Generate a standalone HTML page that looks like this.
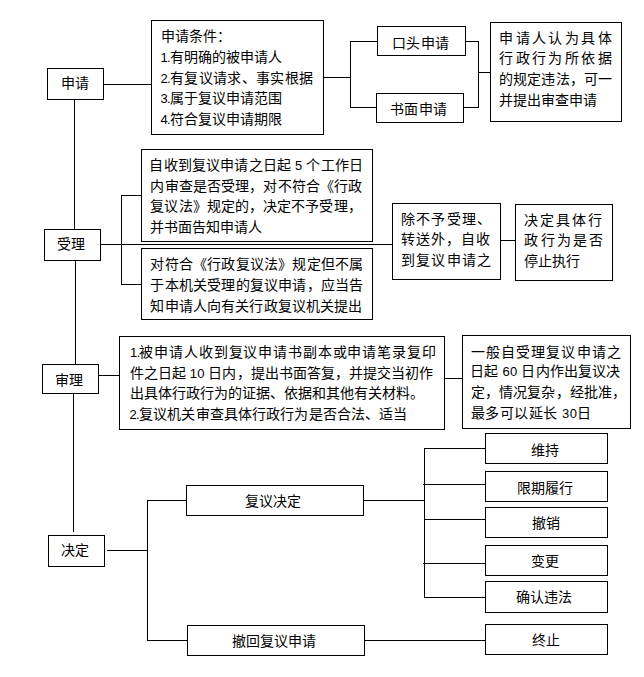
<!DOCTYPE html>
<html lang="zh-CN"><head><meta charset="utf-8"><title>行政复议流程图</title>
<style>
html,body{margin:0;padding:0;background:#fff;}
body{width:644px;height:677px;position:relative;overflow:hidden;font-family:"Liberation Sans",sans-serif;}
.b{position:absolute;box-sizing:border-box;border:1px solid #000;background:#fff;}
.l{position:absolute;background:#000;}
.t{position:absolute;font-size:14px;line-height:14px;white-space:nowrap;color:#000;}
.d{font-size:13px;letter-spacing:-0.7px;}
.n{font-size:13px;}
</style></head><body>
<div class="b" style="left:47px;top:68px;width:57px;height:32px"></div>
<div class="b" style="left:151px;top:20px;width:173px;height:115px"></div>
<div class="b" style="left:377px;top:26px;width:89px;height:30px"></div>
<div class="b" style="left:376px;top:93px;width:88px;height:30px"></div>
<div class="b" style="left:490px;top:22px;width:132px;height:100px"></div>
<div class="b" style="left:44px;top:229px;width:57px;height:32px"></div>
<div class="b" style="left:141px;top:149px;width:232px;height:93px"></div>
<div class="b" style="left:141px;top:248px;width:232px;height:72px"></div>
<div class="b" style="left:392px;top:203px;width:109px;height:77px"></div>
<div class="b" style="left:515px;top:204px;width:98px;height:77px"></div>
<div class="b" style="left:42px;top:364px;width:57px;height:30px"></div>
<div class="b" style="left:119px;top:336px;width:326px;height:94px"></div>
<div class="b" style="left:462px;top:335px;width:169px;height:94px"></div>
<div class="b" style="left:48px;top:535px;width:57px;height:32px"></div>
<div class="b" style="left:186px;top:485px;width:178px;height:31px"></div>
<div class="b" style="left:187px;top:625px;width:178px;height:31px"></div>
<div class="b" style="left:485px;top:433px;width:123px;height:31px"></div>
<div class="b" style="left:485px;top:471px;width:123px;height:31px"></div>
<div class="b" style="left:485px;top:507px;width:123px;height:31px"></div>
<div class="b" style="left:485px;top:545px;width:123px;height:31px"></div>
<div class="b" style="left:485px;top:581px;width:123px;height:32px"></div>
<div class="b" style="left:485px;top:624px;width:123px;height:31px"></div>
<div class="l" style="left:103px;top:84px;width:49px;height:1px"></div>
<div class="l" style="left:323px;top:77px;width:28px;height:1px"></div>
<div class="l" style="left:350px;top:41px;width:28px;height:1px"></div>
<div class="l" style="left:350px;top:107px;width:27px;height:1px"></div>
<div class="l" style="left:465px;top:41px;width:14px;height:1px"></div>
<div class="l" style="left:463px;top:107px;width:16px;height:1px"></div>
<div class="l" style="left:478px;top:72px;width:13px;height:1px"></div>
<div class="l" style="left:100px;top:244px;width:293px;height:1px"></div>
<div class="l" style="left:121px;top:195px;width:21px;height:1px"></div>
<div class="l" style="left:121px;top:284px;width:21px;height:1px"></div>
<div class="l" style="left:500px;top:240px;width:16px;height:1px"></div>
<div class="l" style="left:98px;top:375px;width:22px;height:1px"></div>
<div class="l" style="left:444px;top:378px;width:19px;height:1px"></div>
<div class="l" style="left:107px;top:550px;width:41px;height:1px"></div>
<div class="l" style="left:147px;top:500px;width:40px;height:1px"></div>
<div class="l" style="left:147px;top:640px;width:41px;height:1px"></div>
<div class="l" style="left:363px;top:500px;width:62px;height:1px"></div>
<div class="l" style="left:424px;top:448px;width:62px;height:1px"></div>
<div class="l" style="left:423px;top:484px;width:63px;height:1px"></div>
<div class="l" style="left:424px;top:519px;width:62px;height:1px"></div>
<div class="l" style="left:423px;top:563px;width:62px;height:1px"></div>
<div class="l" style="left:424px;top:597px;width:62px;height:1px"></div>
<div class="l" style="left:364px;top:640px;width:122px;height:1px"></div>
<div class="l" style="left:350px;top:41px;width:1px;height:67px"></div>
<div class="l" style="left:478px;top:41px;width:1px;height:67px"></div>
<div class="l" style="left:74px;top:99px;width:1px;height:131px"></div>
<div class="l" style="left:75px;top:260px;width:1px;height:105px"></div>
<div class="l" style="left:73px;top:393px;width:1px;height:139px"></div>
<div class="l" style="left:121px;top:195px;width:1px;height:90px"></div>
<div class="l" style="left:147px;top:500px;width:1px;height:141px"></div>
<div class="l" style="left:424px;top:448px;width:1px;height:150px"></div>
<div class="t" style="left:60.7px;top:76.3px">申请</div>
<div class="t" style="left:161.0px;top:28.8px">申请条件：</div>
<div class="t" style="left:160.6px;top:50.0px"><span class="d">1.</span>有明确的被申请人</div>
<div class="t" style="left:160.6px;top:70.7px;letter-spacing:0.32px"><span class="d">2.</span>有复议请求、事实根据</div>
<div class="t" style="left:160.6px;top:91.0px"><span class="d">3.</span>属于复议申请范围</div>
<div class="t" style="left:160.6px;top:111.8px"><span class="d">4.</span>符合复议申请期限</div>
<div class="t" style="left:391.9px;top:35.7px;letter-spacing:0.53px">口头申请</div>
<div class="t" style="left:389.8px;top:101.6px;letter-spacing:0.40px">书面申请</div>
<div class="t" style="left:499.3px;top:31.0px;letter-spacing:2.40px">申请人认为具体</div>
<div class="t" style="left:499.3px;top:51.0px;letter-spacing:2.40px">行政行为所依据</div>
<div class="t" style="left:499.3px;top:71.7px;letter-spacing:0.06px">的规定违法，可一</div>
<div class="t" style="left:499.3px;top:92.6px">并提出审查申请</div>
<div class="t" style="left:57.0px;top:236.9px">受理</div>
<div class="t" style="left:149.4px;top:158.0px;letter-spacing:0.16px">自收到复议申请之日起 <span class="n">5</span> 个工作日</div>
<div class="t" style="left:150.4px;top:179.0px;letter-spacing:0.13px">内审查是否受理，对不符合《行政</div>
<div class="t" style="left:150.4px;top:199.2px;letter-spacing:0.09px">复议法》规定的，决定不予受理，</div>
<div class="t" style="left:150.4px;top:220.0px">并书面告知申请人</div>
<div class="t" style="left:150.4px;top:257.0px;letter-spacing:0.20px">对符合《行政复议法》规定但不属</div>
<div class="t" style="left:150.4px;top:278.0px;letter-spacing:0.20px">于本机关受理的复议申请，应当告</div>
<div class="t" style="left:150.4px;top:299.0px;letter-spacing:0.14px">知申请人向有关行政复议机关提出</div>
<div class="t" style="left:401.1px;top:212.2px;letter-spacing:1.20px">除不予受理、</div>
<div class="t" style="left:401.1px;top:232.3px;letter-spacing:0.96px">转送外，自收</div>
<div class="t" style="left:401.1px;top:252.5px;letter-spacing:1.16px">到复议申请之</div>
<div class="t" style="left:524.4px;top:212.5px;letter-spacing:1.88px">决定具体行</div>
<div class="t" style="left:524.4px;top:233.0px;letter-spacing:2.12px">政行为是否</div>
<div class="t" style="left:524.4px;top:254.0px">停止执行</div>
<div class="t" style="left:55.0px;top:373.0px">审理</div>
<div class="t" style="left:130.0px;top:345.0px;letter-spacing:0.85px"><span class="d">1.</span>被申请人收到复议申请书副本或申请笔录复印</div>
<div class="t" style="left:129.6px;top:365.5px;letter-spacing:0.07px">件之日起 <span class="n">10</span> 日内，提出书面答复，并提交当初作</div>
<div class="t" style="left:129.6px;top:386.0px">出具体行政行为的证据、依据和其他有关材料。</div>
<div class="t" style="left:129.6px;top:406.5px;letter-spacing:0.13px"><span class="d">2.</span>复议机关审查具体行政行为是否合法、适当</div>
<div class="t" style="left:470.6px;top:344.6px;letter-spacing:1.13px">一般自受理复议申请之</div>
<div class="t" style="left:470.3px;top:364.0px;letter-spacing:0.14px">日起 <span class="n">60</span> 日内作出复议决</div>
<div class="t" style="left:470.6px;top:385.0px;letter-spacing:0.16px">定，情况复杂，经批准，</div>
<div class="t" style="left:470.6px;top:406.0px;letter-spacing:0.49px">最多可以延长 <span class="n">30</span>日</div>
<div class="t" style="left:61.0px;top:543.0px">决定</div>
<div class="t" style="left:245.1px;top:494.0px">复议决定</div>
<div class="t" style="left:232.1px;top:634.0px">撤回复议申请</div>
<div class="t" style="left:531.0px;top:442.5px">维持</div>
<div class="t" style="left:517.4px;top:480.6px">限期履行</div>
<div class="t" style="left:531.9px;top:516.0px">撤销</div>
<div class="t" style="left:530.9px;top:554.2px">变更</div>
<div class="t" style="left:516.0px;top:590.1px">确认违法</div>
<div class="t" style="left:531.9px;top:633.2px">终止</div>
</body></html>
